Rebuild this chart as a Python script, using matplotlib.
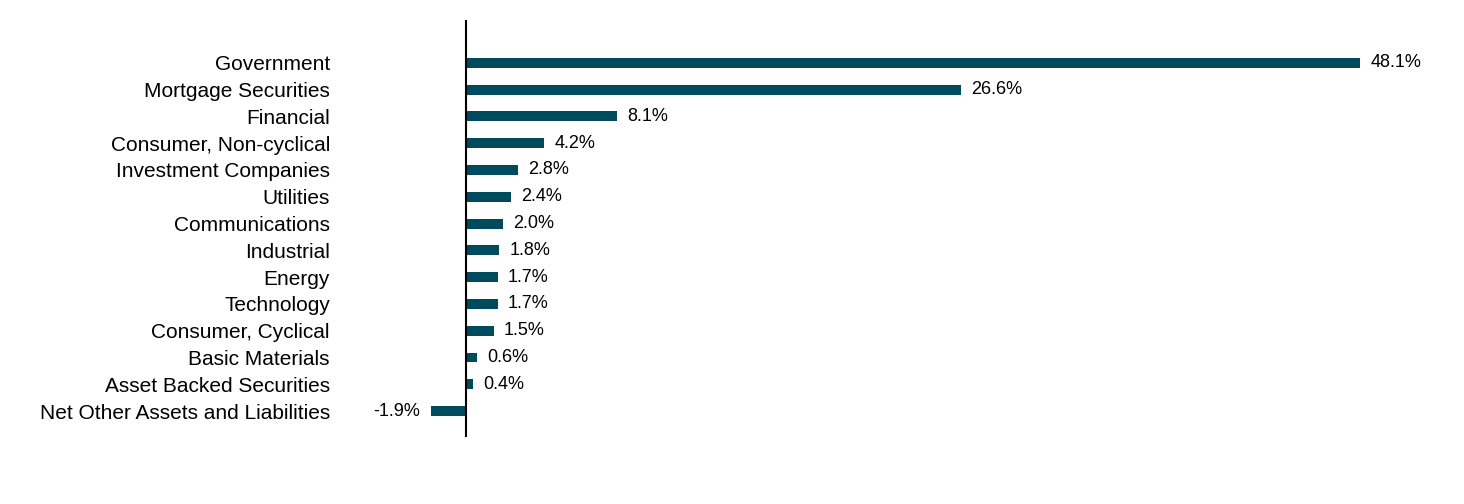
import matplotlib
matplotlib.use("Agg")
import matplotlib.pyplot as plt

plt.rcParams["font.family"] = "Liberation Sans"

categories = ["Government", "Mortgage Securities", "Financial", "Consumer, Non-cyclical",
              "Investment Companies", "Utilities", "Communications", "Industrial", "Energy",
              "Technology", "Consumer, Cyclical", "Basic Materials",
              "Asset Backed Securities", "Net Other Assets and Liabilities"]
values = [48.1, 26.6, 8.1, 4.2, 2.8, 2.4, 2.0, 1.8, 1.7, 1.7, 1.5, 0.6, 0.4, -1.9]

fig = plt.figure(figsize=(14.64, 5.04), dpi=100)
ax = fig.add_axes([373 / 1464, 67 / 504, 1060 / 1464, 417 / 504])

pos = list(range(len(categories)))
ax.barh(pos, values, height=0.37, color="#004a5e")
for p, v in zip(pos, values):
    if v >= 0:
        ax.text(v + 0.55, p, f"{v:.1f}%", va="center", ha="left", fontsize=13)
    else:
        ax.text(v - 0.55, p, f"{v:.1f}%", va="center", ha="right", fontsize=13)

ax.axvline(0, color="black", lw=1.5)
ax.set_xlim(-5, 52)
ax.set_ylim(13.97, -1.6)
ax.set_yticks(pos)
ax.set_yticklabels(categories, fontsize=15)
ax.tick_params(axis="y", length=0, pad=31)
ax.set_xticks([])
for s in ax.spines.values():
    s.set_visible(False)

fig.savefig("out.png", dpi=100)
